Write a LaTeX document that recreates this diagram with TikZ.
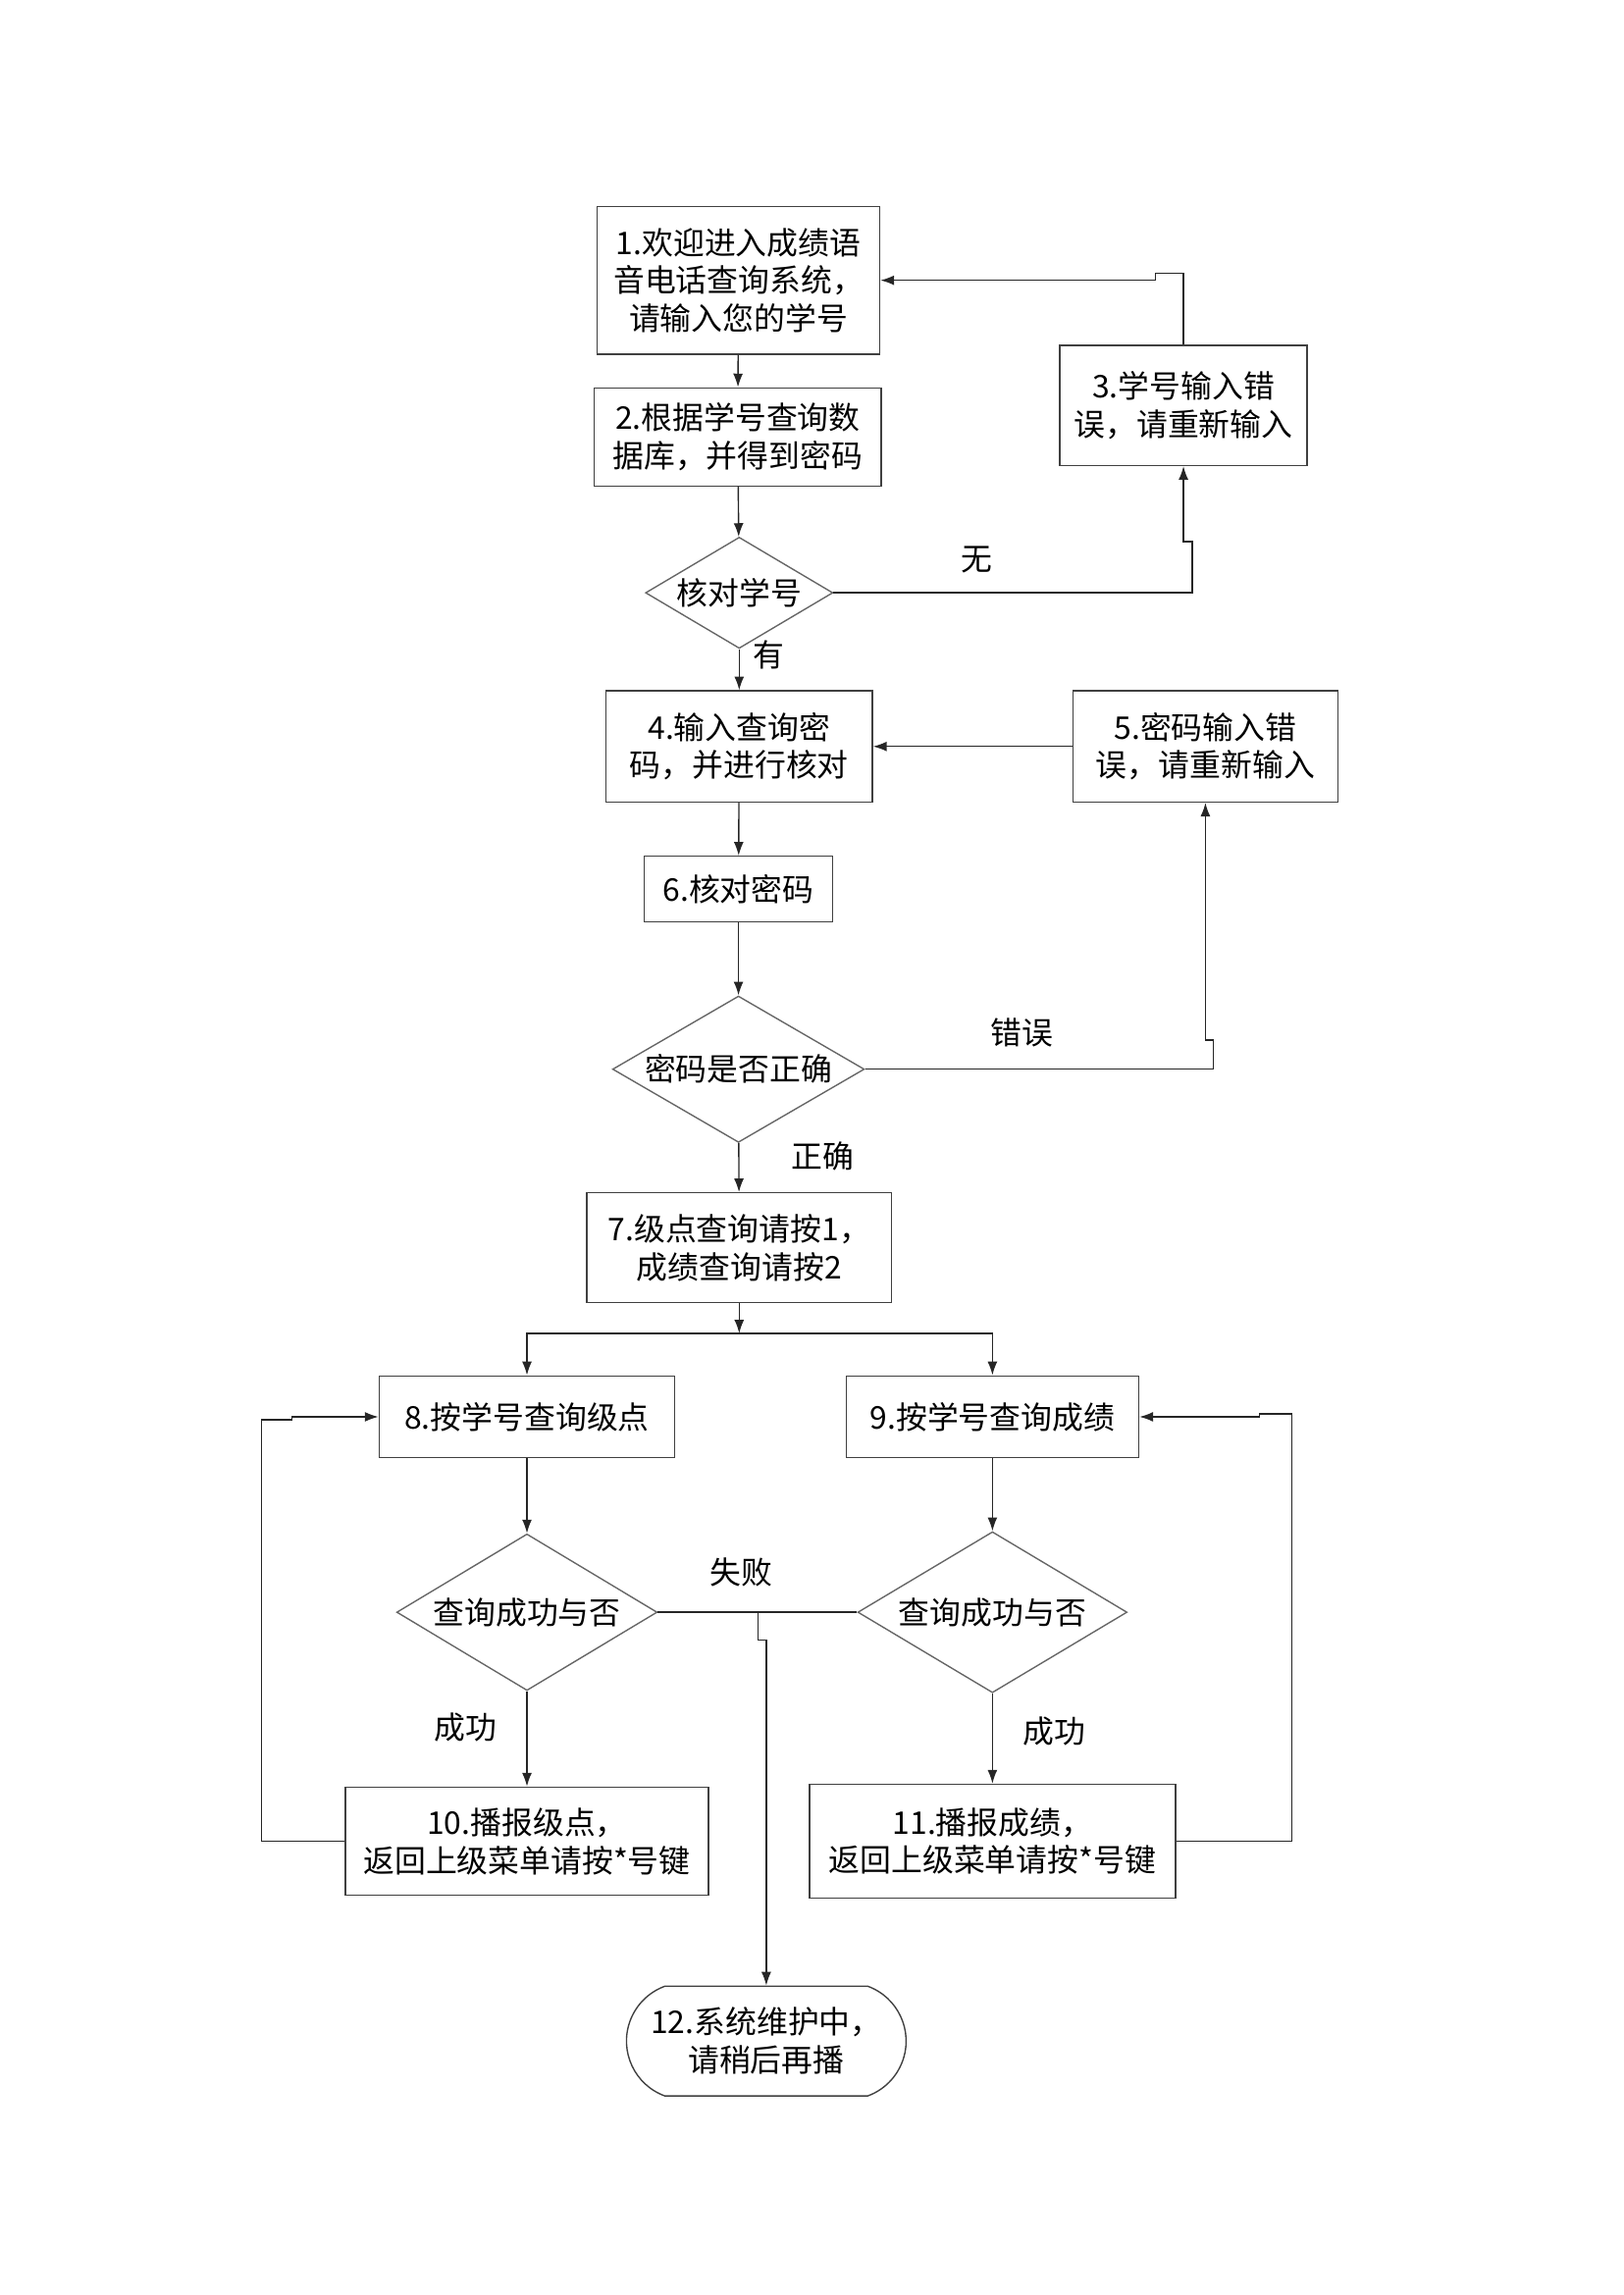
\documentclass[tikz,border=0pt]{standalone}
\usepackage{fontspec}
\usepackage{tikz}
\usetikzlibrary{shapes.geometric,shapes.misc,arrows.meta}
\newfontfamily\cjk{Noto Sans CJK SC}

\begin{document}
\begin{tikzpicture}[>={Latex[length=5pt,width=3.6pt]},
        x=0.018936cm, y=-0.018936cm,
        every node/.style={font=\cjk\fontsize{11.5pt}{14pt}\selectfont},
        box/.style={draw=black!75, line width=0.5pt, align=center, inner sep=0pt},
        test/.style={diamond, draw=black!60, line width=0.5pt, inner sep=0pt, aspect=2.1},
        lbl/.style={inner sep=0pt},
        link/.style={line width=0.5pt, draw=black!85},
      ]
        \useasboundingbox (0,0) rectangle (1109,1568);

        % main column
        \node[box, minimum width=3.655cm, minimum height=1.913cm] (welcome) at (504.5,191.5)
          {1.欢迎进入成绩语\\音电话查询系统，\\请输入您的学号};
        \node[box, minimum width=3.71cm, minimum height=1.269cm] (lookup) at (504,298.5)
          {2.根据学号查询数\\据库，并得到密码};
        \node[test, minimum width=2.424cm, minimum height=1.439cm] (chkid) at (505,405) {核对学号};
        \node[box, minimum width=3.2cm, minimum height=1.553cm] (badid) at (808.5,277)
          {3.学号输入错\\误，请重新输入};
        \node[box, minimum width=3.446cm, minimum height=1.439cm] (inpw) at (505,510)
          {4.输入查询密\\码，并进行核对};
        \node[box, minimum width=3.427cm, minimum height=1.439cm] (badpw) at (823.5,510)
          {5.密码输入错\\误，请重新输入};
        \node[box, minimum width=2.443cm, minimum height=0.852cm] (chkpw) at (504.5,607.5) {6.核对密码};
        \node[test, minimum width=3.257cm, minimum height=1.894cm] (pwok) at (504.5,730.5) {密码是否正确};
        \node[box, minimum width=3.939cm, minimum height=1.42cm] (menu) at (505,852.5)
          {7.级点查询请按1，\\成绩查询请按2};
        \coordinate (split) at (505,911);

        % two branches
        \node[box, minimum width=3.825cm, minimum height=1.06cm] (qgpa) at (360,968) {8.按学号查询级点};
        \node[box, minimum width=3.787cm, minimum height=1.06cm] (qscore) at (678,968) {9.按学号查询成绩};
        \node[test, minimum width=3.37cm, minimum height=2.026cm] (gpaok) at (360,1101.5) {查询成功与否};
        \node[test, minimum width=3.484cm, minimum height=2.083cm] (scoreok) at (678,1101.5) {查询成功与否};
        \node[box, minimum width=4.696cm, minimum height=1.401cm] (saygpa) at (360,1258)
          {10.播报级点，\\返回上级菜单请按*号键};
        \node[box, minimum width=4.734cm, minimum height=1.477cm] (sayscore) at (678,1258)
          {11.播报成绩，\\返回上级菜单请按*号键};
        \coordinate (fail) at (518,1101.5);
        \node[box, rounded rectangle, rounded rectangle arc length=140,
          minimum width=3.617cm, minimum height=1.42cm] (down) at (523.5,1394.5)
          {12.系统维护中，\\请稍后再播};

        \draw[link,->] (welcome) -- (lookup);
        \draw[link,->] (lookup) -- (chkid);
        \draw[link,->] (chkid) -- node[lbl, pos=.14, right=5pt] (lyes) {有} (inpw);
        \draw[link,->] (chkid.east) -- node[lbl, pos=.4, above=7pt] (lno) {无} ++(245,0)
          -- ++(0,-35) -| (badid.south);
        \draw[link,->] (badid.north) -- ++(0,-49) -- ++(-19,0) |- (welcome.east);
        \draw[link,->] (inpw) -- (chkpw);
        \draw[link,->] (badpw) -- (inpw);
        \draw[link,->] (chkpw) -- (pwok);
        \draw[link,->] (pwok.east) -- node[lbl, pos=.45, above=8pt] (lwrong) {错误} ++(238,0)
          -- ++(0,-20) -| (badpw.south);
        \draw[link,->] (pwok) -- node[lbl, pos=.26, right=19pt] (lright) {正确} (menu);
        \draw[link,->] (menu) -- (split);
        \draw[link,->] (split) -| (qgpa);
        \draw[link,->] (split) -| (qscore);
        \draw[link,->] (qgpa) -- (gpaok);
        \draw[link,->] (qscore) -- (scoreok);
        \draw[link,->] (gpaok) -- node[lbl, pos=.38, left=11pt] (lok1) {成功} (saygpa);
        \draw[link,->] (scoreok) -- node[lbl, pos=.42, right=11pt] (lok2) {成功} (sayscore);
        \draw[link] (gpaok.east) -- node[lbl, pos=.42, above=9pt] (lfail) {失败} (scoreok.west);
        \draw[link,->] (fail) -- ++(0,19) -| (down.north);
        \draw[link,->] (saygpa.west) -- ++(-57,0) -- ++(0,-288) -- ++(21,0) |- (qgpa.west);
        \draw[link,->] (sayscore.east) -- ++(79,0) -- ++(0,-292) -- ++(-22,0) |- (qscore.east);
      \end{tikzpicture}
\end{document}
